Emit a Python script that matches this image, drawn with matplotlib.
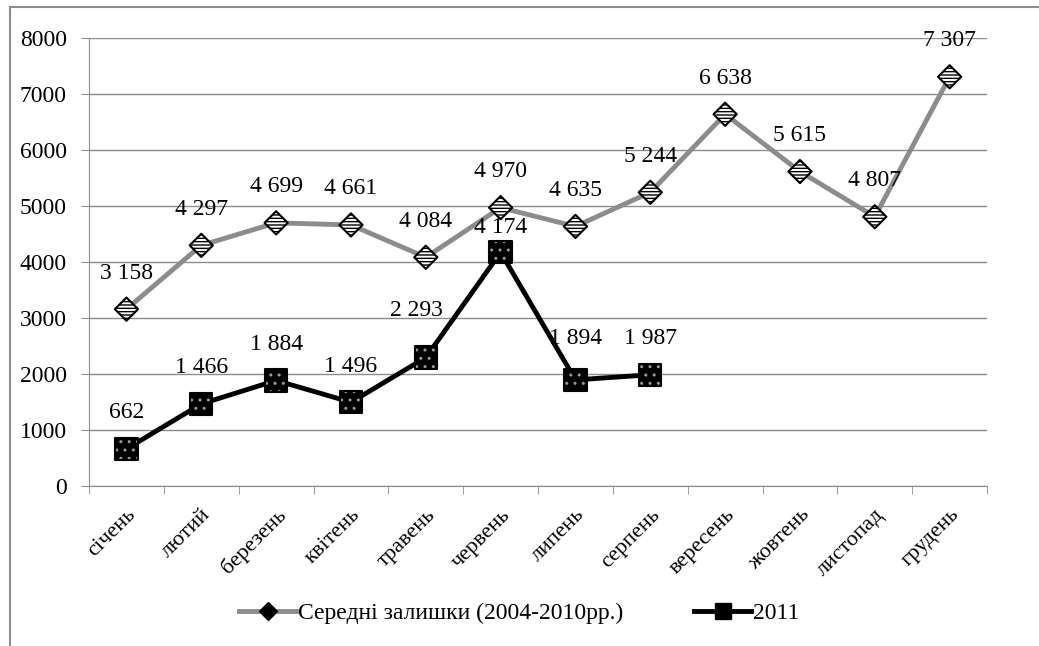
import matplotlib
matplotlib.use('Agg')
from matplotlib import pyplot as plt
from matplotlib.lines import Line2D
import numpy as np

plt.rcParams['font.family'] = ['Liberation Serif', 'DejaVu Serif']

months = ['січень', 'лютий', 'березень', 'квітень', 'травень', 'червень',
          'липень', 'серпень', 'вересень', 'жовтень', 'листопад', 'грудень']
avg_2004_2010 = [3158, 4297, 4699, 4661, 4084, 4970, 4635, 5244, 6638, 5615, 4807, 7307]
y2011 = [662, 1466, 1884, 1496, 2293, 4174, 1894, 1987]
name_avg = 'Середні залишки (2004-2010рр.)'
name_2011 = '2011'

fig = plt.figure(figsize=(10.39, 6.46), dpi=100)
ax = fig.add_axes([0.0857, 0.2477, 0.8643, 0.6935])

x1 = np.arange(len(avg_2004_2010))
x2 = np.arange(len(y2011))

# grey series
ax.plot(x1, avg_2004_2010, color='#8c8c8c', lw=3.5, zorder=3)
ax.scatter(x1, avg_2004_2010, marker='D', s=140, facecolor='white',
           edgecolor='black', hatch='-----', linewidths=1.5, zorder=4)

# black series
ax.plot(x2, y2011, color='black', lw=3.5, zorder=5)
ax.scatter(x2, y2011, marker='s', s=260, facecolor='black',
           edgecolor='#9a9a9a', hatch='..', linewidths=0, zorder=6)
ax.scatter(x2, y2011, marker='s', s=260, facecolor='none',
           edgecolor='black', linewidths=1.5, zorder=7)

def fmt(v):
    return f'{v:,}'.replace(',', ' ')

for x, v in zip(x1, avg_2004_2010):
    ax.annotate(fmt(v), (x, v), xytext=(0, 26), textcoords='offset points',
                ha='center', va='center', fontsize=17)
offs2 = [26, 26, 26, 26, 34, 18, 30, 26]
dx2 = [0, 0, 0, 0, -7, 0, 0, 0]
for x, v, o, d in zip(x2, y2011, offs2, dx2):
    ax.annotate(fmt(v), (x, v), xytext=(d, o), textcoords='offset points',
                ha='center', va='center', fontsize=17)

ax.set_xlim(-0.5, 11.5)
ax.set_ylim(0, 8000)
ax.set_yticks(range(0, 8001, 1000))
ax.set_xticks(x1)
ax.set_xticklabels(months, rotation=45, ha='right', rotation_mode='anchor', fontsize=16)
ax.set_xticks(np.arange(-0.5, 12, 1), minor=True)
ax.tick_params(axis='x', which='major', length=0, pad=14)
ax.tick_params(axis='x', which='minor', length=6, color='#8c8c8c', direction='out')
ax.tick_params(axis='y', length=6, color='#8c8c8c', labelsize=17, pad=10)
ax.grid(axis='y', color='#8c8c8c', lw=1)
ax.set_axisbelow(True)
for s in ['top', 'right']:
    ax.spines[s].set_visible(False)
for s in ['left', 'bottom']:
    ax.spines[s].set_color('#8c8c8c')

handles = [
    Line2D([], [], color='#8c8c8c', lw=3.5, marker='D', markersize=9,
           markerfacecolor='black', markeredgecolor='black'),
    Line2D([], [], color='black', lw=3.5, marker='s', markersize=11,
           markerfacecolor='black', markeredgecolor='black'),
]
fig.legend(handles, [name_avg, name_2011], loc='center', bbox_to_anchor=(0.5, 0.051),
           ncol=2, frameon=False, fontsize=17, handlelength=2.4, columnspacing=3,
           handletextpad=0.1)

# outer frame (left and top edges visible)
fig.add_artist(Line2D([10 / 1039, 10 / 1039], [0, 1 - 7 / 646], transform=fig.transFigure,
                      color='#8c8c8c', lw=1.5))
fig.add_artist(Line2D([10 / 1039, 1], [1 - 7 / 646, 1 - 7 / 646], transform=fig.transFigure,
                      color='#8c8c8c', lw=1.5))

fig.savefig('out.png', dpi=100)
